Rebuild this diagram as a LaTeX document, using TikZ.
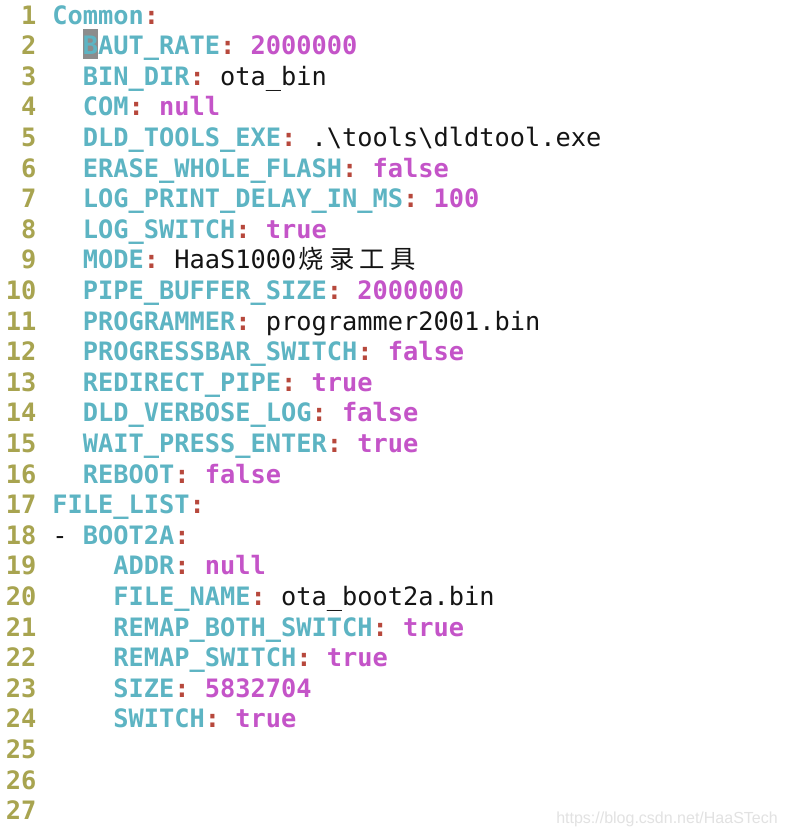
\documentclass[tikz,border=0pt]{standalone}
\usepackage{fontspec}
\setmonofont{DejaVu Sans Mono}
\newfontfamily\cjk{Noto Sans CJK SC}
\newfontfamily\wmfont{Liberation Sans}
\usetikzlibrary{positioning}

\definecolor{numc}{RGB}{168,164,80}
\definecolor{keyc}{RGB}{93,180,195}
\definecolor{colc}{RGB}{183,72,60}
\definecolor{valc}{RGB}{196,84,200}
\definecolor{strc}{RGB}{20,20,20}
\definecolor{cursorc}{RGB}{140,140,140}
\definecolor{wmc}{RGB}{226,226,226}

\newcommand\yk[1]{\textcolor{keyc}{\bfseries #1}}
\newcommand\yc{\textcolor{colc}{\bfseries :}}
\newcommand\yv[1]{\textcolor{valc}{\bfseries #1}}
\newcommand\ys[1]{\textcolor{strc}{#1}}
\newcommand\zh[1]{\makebox[22.88pt][c]{\cjk #1}}

\begin{document}
\begin{tikzpicture}[x=0.75pt, y=-0.75pt,
	lnum/.style={anchor=base east, inner sep=0pt, text=numc, font=\ttfamily\bfseries\fontsize{19}{23}\selectfont},
	code/.style={anchor=base west, inner sep=0pt, xshift=11.44pt, font=\ttfamily\fontsize{19}{23}\selectfont},
	indent/.style={xshift=#1*11.44pt},
	wm/.style={anchor=base east, inner sep=0pt, text=wmc, font=\wmfont\fontsize{12}{14}\selectfont}]
		\fill[white] (0,0) rectangle (788,836);
		\useasboundingbox (0,0) rectangle (788,836);
		% cursor
		\fill[cursorc] (82.5,28.5) rectangle (97.75,58.5);
		% line numbers
		\foreach \i in {1,...,27}
			\node[lnum] (n\i) at (36.75, {30.6*\i-6.6}) {\i};
		% Common block
		\node[code] (l1) at (n1.base east) {\yk{Common}\yc};
		\node[code, indent=2] (l2) at (n2.base east) {\yk{BAUT\_RATE}\yc{} \yv{2000000}};
		\node[code, indent=2] (l3) at (n3.base east) {\yk{BIN\_DIR}\yc{} \ys{ota\_bin}};
		\node[code, indent=2] (l4) at (n4.base east) {\yk{COM}\yc{} \yv{null}};
		\node[code, indent=2] (l5) at (n5.base east) {\yk{DLD\_TOOLS\_EXE}\yc{} \ys{.\textbackslash tools\textbackslash dldtool.exe}};
		\node[code, indent=2] (l6) at (n6.base east) {\yk{ERASE\_WHOLE\_FLASH}\yc{} \yv{false}};
		\node[code, indent=2] (l7) at (n7.base east) {\yk{LOG\_PRINT\_DELAY\_IN\_MS}\yc{} \yv{100}};
		\node[code, indent=2] (l8) at (n8.base east) {\yk{LOG\_SWITCH}\yc{} \yv{true}};
		\node[code, indent=2] (l9) at (n9.base east) {\yk{MODE}\yc{} \ys{HaaS1000\zh{烧}\zh{录}\zh{工}\zh{具}}};
		\node[code, indent=2] (l10) at (n10.base east) {\yk{PIPE\_BUFFER\_SIZE}\yc{} \yv{2000000}};
		\node[code, indent=2] (l11) at (n11.base east) {\yk{PROGRAMMER}\yc{} \ys{programmer2001.bin}};
		\node[code, indent=2] (l12) at (n12.base east) {\yk{PROGRESSBAR\_SWITCH}\yc{} \yv{false}};
		\node[code, indent=2] (l13) at (n13.base east) {\yk{REDIRECT\_PIPE}\yc{} \yv{true}};
		\node[code, indent=2] (l14) at (n14.base east) {\yk{DLD\_VERBOSE\_LOG}\yc{} \yv{false}};
		\node[code, indent=2] (l15) at (n15.base east) {\yk{WAIT\_PRESS\_ENTER}\yc{} \yv{true}};
		\node[code, indent=2] (l16) at (n16.base east) {\yk{REBOOT}\yc{} \yv{false}};
		% FILE_LIST block
		\node[code] (l17) at (n17.base east) {\yk{FILE\_LIST}\yc};
		\node[code] (l18) at (n18.base east) {\ys{-} \yk{BOOT2A}\yc};
		\node[code, indent=4] (l19) at (n19.base east) {\yk{ADDR}\yc{} \yv{null}};
		\node[code, indent=4] (l20) at (n20.base east) {\yk{FILE\_NAME}\yc{} \ys{ota\_boot2a.bin}};
		\node[code, indent=4] (l21) at (n21.base east) {\yk{REMAP\_BOTH\_SWITCH}\yc{} \yv{true}};
		\node[code, indent=4] (l22) at (n22.base east) {\yk{REMAP\_SWITCH}\yc{} \yv{true}};
		\node[code, indent=4] (l23) at (n23.base east) {\yk{SIZE}\yc{} \yv{5832704}};
		\node[code, indent=4] (l24) at (n24.base east) {\yk{SWITCH}\yc{} \yv{true}};
		% watermark
		\node[wm] (wm) at (778,823) {https://blog.csdn.net/HaaSTech};
	\end{tikzpicture}
\end{document}
